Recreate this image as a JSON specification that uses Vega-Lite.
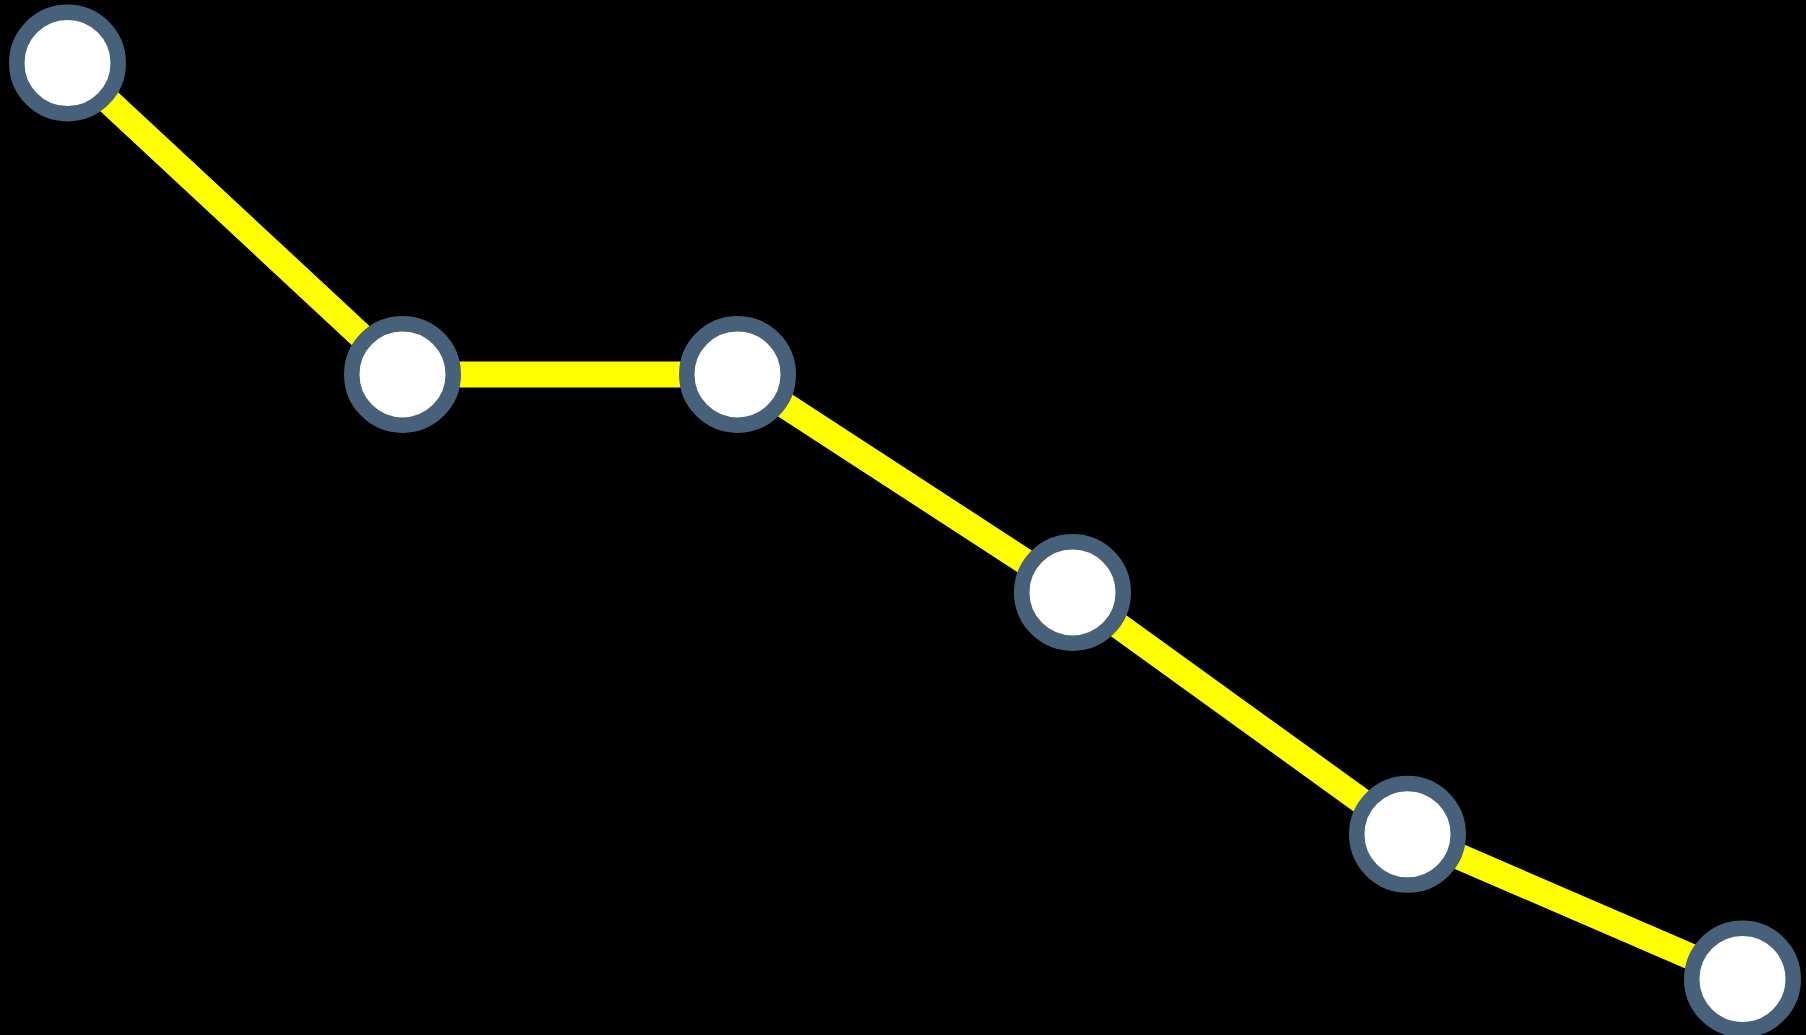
{
  "$schema": "https://vega.github.io/schema/vega-lite/v6.json",
  "width": 1675,
  "height": 916,
  "autosize": {"type": "none"},
  "padding": {"left": 67.5, "right": 63.5, "top": 63, "bottom": 56},
  "background": "#000000",
  "config": {"view": {"stroke": null}},
  "data": {"values": [
    {"x": 0, "y": 100},
    {"x": 1, "y": 66},
    {"x": 2, "y": 66},
    {"x": 3, "y": 42.2},
    {"x": 4, "y": 15.8},
    {"x": 5, "y": 0}
  ]},
  "encoding": {
    "x": {"field": "x", "type": "quantitative", "scale": {"domain": [0, 5], "nice": false, "zero": false}, "axis": null},
    "y": {"field": "y", "type": "quantitative", "scale": {"domain": [0, 100], "nice": false}, "axis": null}
  },
  "layer": [
    {"mark": {"type": "line", "color": "#ffff00", "strokeWidth": 26}},
    {"mark": {"type": "point", "filled": false, "fill": "#ffffff", "fillOpacity": 1, "stroke": "#47617b", "strokeWidth": 15.5, "opacity": 1, "size": 10300, "shape": "circle"}}
  ]
}
